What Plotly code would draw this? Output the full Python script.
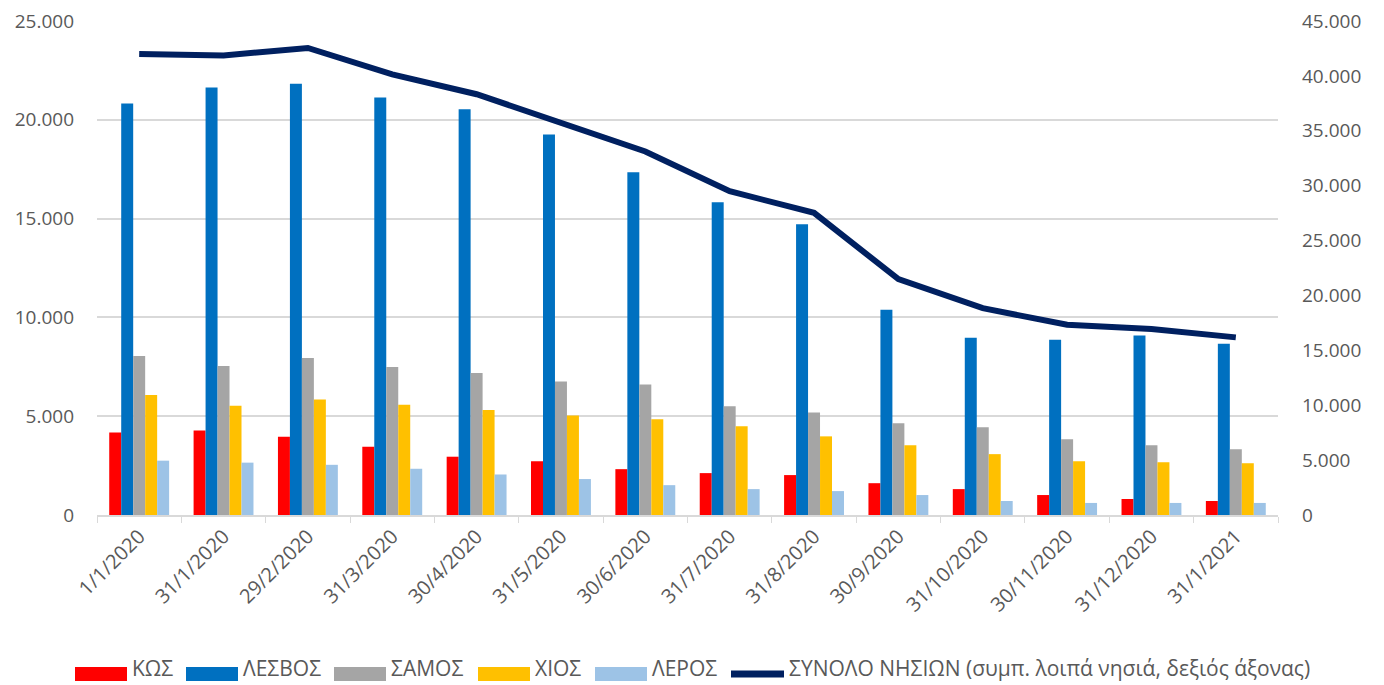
import plotly.graph_objects as go

dates = ["1/1/2020", "31/1/2020", "29/2/2020", "31/3/2020", "30/4/2020", "31/5/2020",
         "30/6/2020", "31/7/2020", "31/8/2020", "30/9/2020", "31/10/2020", "30/11/2020",
         "31/12/2020", "31/1/2021"]

kos = [4180, 4270, 3960, 3460, 2950, 2720, 2320, 2120, 2020, 1610, 1310, 1010, 810, 710]
lesvos = [20820, 21640, 21830, 21130, 20530, 19260, 17340, 15830, 14720, 10390, 8970, 8870, 9080, 8670]
samos = [8050, 7540, 7950, 7490, 7180, 6760, 6610, 5500, 5190, 4640, 4440, 3830, 3530, 3330]
chios = [6070, 5530, 5840, 5580, 5320, 5040, 4840, 4490, 3980, 3530, 3080, 2720, 2670, 2620]
leros = [2750, 2650, 2540, 2340, 2050, 1820, 1510, 1310, 1210, 1010, 710, 610, 610, 610]
total = [42000, 41860, 42540, 40140, 38330, 35780, 33120, 29490, 27530, 21480, 18840, 17330, 16940, 16180]

bar_names = ["ΚΩΣ", "ΛΕΣΒΟΣ", "ΣΑΜΟΣ", "ΧΙΟΣ", "ΛΕΡΟΣ"]
bar_values = [kos, lesvos, samos, chios, leros]
bar_colors = ["#FF0000", "#0070C0", "#A5A5A5", "#FFC000", "#9DC3E6"]
line_name = "ΣΥΝΟΛΟ ΝΗΣΙΩΝ (συμπ. λοιπά νησιά, δεξιός άξονας)"
line_color = "#002060"

font_family = "Open Sans, Liberation Sans, sans-serif"
text_color = "#595959"

# screen geometry; the page body adds an 8px offset, so the figure is sized to fit the window
OFF = 8
SW, SH = 1384, 685
W, H = SW - OFF, SH - OFF
PL, PR, PT, PB = 97, 1278, 21, 515
pw, ph = PR - PL, PB - PT


def px(sx):
    return (sx - PL) / pw


def py(sy):
    return (PB - sy) / ph


fig = go.Figure()
for name, vals, col in zip(bar_names, bar_values, bar_colors):
    fig.add_trace(go.Bar(x=dates, y=vals, name=name, marker=dict(color=col, line=dict(width=0)),
                         yaxis="y", showlegend=False))

fig.add_trace(go.Scatter(x=dates, y=total, name=line_name, mode="lines",
                         line=dict(color=line_color, width=6), yaxis="y2", showlegend=False))

# custom legend (wide swatches as in the reference)
legend_rect_x = [75, 186, 334, 478, 595]
shapes = []
annotations = []
ly0, ly1, lyc = 667, 681, 674
for sx, name, col in zip(legend_rect_x, bar_names, bar_colors):
    shapes.append(dict(type="rect", xref="paper", yref="paper", x0=px(sx), x1=px(sx + 52),
                       y0=py(ly1), y1=py(ly0), fillcolor=col, line=dict(width=0)))
    annotations.append(dict(xref="paper", yref="paper", x=px(sx + 55), y=py(684.5), text=name,
                            showarrow=False, xanchor="left", yanchor="bottom",
                            font=dict(size=21, color=text_color, family=font_family)))
shapes.append(dict(type="line", xref="paper", yref="paper", x0=px(731), x1=px(784),
                   y0=py(lyc), y1=py(lyc), line=dict(color=line_color, width=7)))
annotations.append(dict(xref="paper", yref="paper", x=px(787), y=py(684.5), text=line_name,
                        showarrow=False, xanchor="left", yanchor="bottom",
                        font=dict(size=21, color=text_color, family=font_family)))

fig.update_layout(
    width=W, height=H,
    margin=dict(l=PL - OFF, r=W - (PR - OFF), t=PT - OFF, b=H - (PB - OFF), autoexpand=False),
    paper_bgcolor="white", plot_bgcolor="white",
    separators=",.",
    barmode="group", bargap=0.29, bargroupgap=0,
    font=dict(family=font_family, size=19, color=text_color),
    showlegend=False,
    shapes=shapes, annotations=annotations,
    xaxis=dict(type="category", tickangle=-45, showgrid=False, showline=True, automargin=False,
               linecolor="#D9D9D9", linewidth=1.5, ticks="outside", tickson="boundaries",
               ticklen=6, tickcolor="#D9D9D9", tickfont=dict(size=20, color=text_color)),
    yaxis=dict(range=[0, 25000], dtick=5000, tickformat=",d", showgrid=True, automargin=False,
               gridcolor="#D9D9D9", gridwidth=1.5, zeroline=False, showline=False,
               ticks="", ticklabelstandoff=22, ticklabeloverflow="allow",
               tickfont=dict(size=19, color=text_color)),
    yaxis2=dict(range=[0, 45000], dtick=5000, tickformat=",d", overlaying="y", side="right",
                automargin=False, showgrid=False, zeroline=False, showline=False, ticks="",
                ticklabelstandoff=23, ticklabeloverflow="allow",
                tickfont=dict(size=19, color=text_color)),
)

fig.write_html("out.html")
